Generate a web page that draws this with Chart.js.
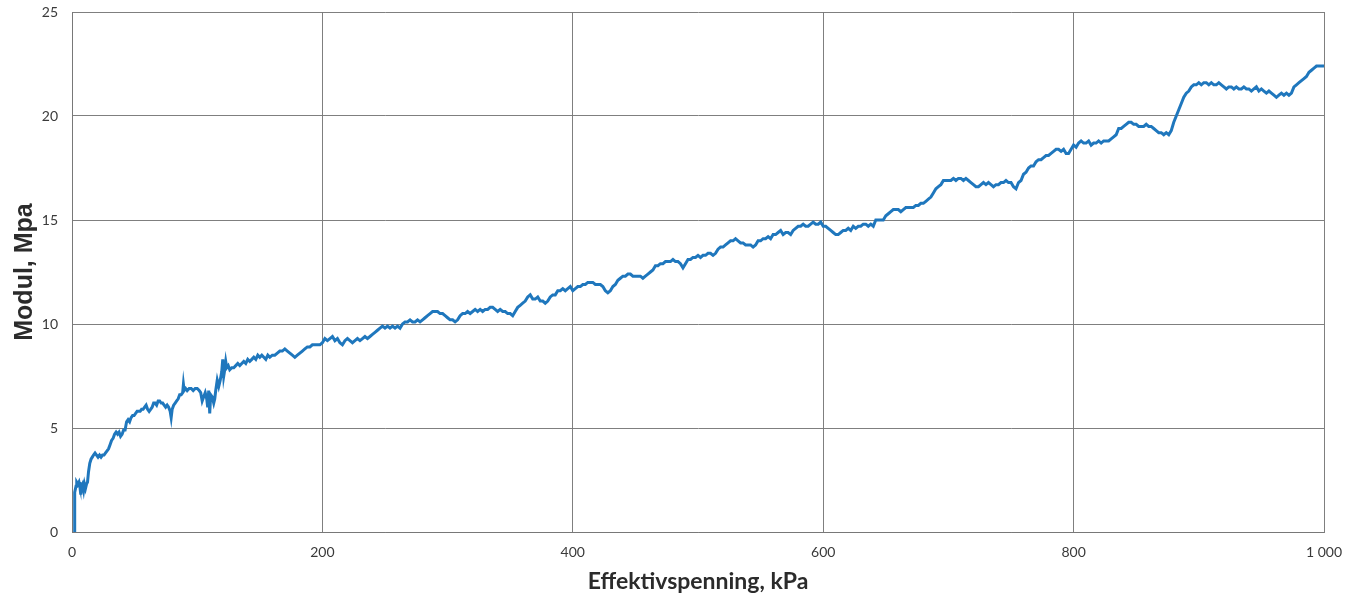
<!DOCTYPE html>
<html>
<head>
<meta charset="utf-8">
<script src="https://cdn.jsdelivr.net/npm/chart.js@4.4.1/dist/chart.umd.min.js"></script>
<style>
  html, body { margin: 0; padding: 0; background: #ffffff; }
  #wrap { width: 1359px; height: 600px; position: relative; }
</style>
</head>
<body>
<div id="wrap"><canvas id="c" width="1359" height="600"></canvas></div>
<script>
// Effective stress (kPa) and measured modulus (MPa)
const effektivspenning = [
  1.8, 2.0, 2.3, 3.2, 3.8, 4.8, 5.6, 6.3, 7.0, 7.6, 8.4, 9.3, 10.0, 10.8, 11.6, 12.4, 13.2, 14.2, 15.2, 16.2,
  17.2, 18.4, 19.6, 20.8, 22.0, 23.2, 24.4, 25.6, 26.8, 28.0, 29.2, 30.4, 31.6, 32.8, 34.0, 35.2, 36.4, 37.6, 38.8, 40.0,
  41.2, 42.4, 43.6, 44.8, 46.0, 47.2, 48.4, 49.6, 50.8, 52.0, 53.2, 54.4, 55.6, 56.8, 58.0, 59.2, 60.4, 61.6, 62.8, 64.0,
  65.2, 66.4, 67.6, 68.8, 70.0, 71.2, 72.4, 73.6, 74.8, 76.0, 77.2, 78.4, 79.2, 80.0, 81.2, 82.4, 83.6, 84.8, 86.0, 87.2,
  88.4, 89.0, 89.6, 90.8, 92.0, 93.6, 95.2, 96.8, 98.4, 100.0, 101.6, 102.8, 104.0, 105.2, 106.4, 107.6, 108.4, 109.2, 110.0, 110.8,
  112.0, 113.2, 114.0, 114.8, 116.0, 117.2, 118.4, 119.6, 120.4, 121.2, 122.0, 122.8, 123.6, 124.8, 126.0, 127.6, 129.2, 130.8, 132.4, 134.0,
  135.6, 137.2, 138.8, 140.4, 142.0, 143.6, 145.2, 146.8, 148.4, 150.0, 151.6, 153.2, 154.8, 156.4, 158.0, 160, 162, 164, 166, 168,
  170, 172, 174, 176, 178, 180, 182, 184, 186, 188, 190, 192, 194, 196, 198, 200, 202, 204, 206, 208,
  210, 212, 214, 216, 218, 220, 222, 224, 226, 228, 230, 232, 234, 236, 238, 240, 242, 244, 246, 248,
  250, 252, 254, 256, 258, 260, 262, 264, 266, 268, 270, 272, 274, 276, 278, 280, 282, 284, 286, 288,
  290, 292, 294, 296, 298, 300, 302, 304, 306, 308, 310, 312, 314, 316, 318, 320, 322, 324, 326, 328,
  330, 332, 334, 336, 338, 340, 342, 344, 346, 348, 350, 352, 354, 356, 358, 360, 362, 364, 366, 368,
  370, 372, 374, 376, 378, 380, 382, 384, 386, 388, 390, 392, 394, 396, 398, 400, 402, 404, 406, 408,
  410, 412, 414, 416, 418, 420, 422, 424, 426, 428, 430, 432, 434, 436, 438, 440, 442, 444, 446, 448,
  450, 452, 454, 456, 458, 460, 462, 464, 466, 468, 470, 472, 474, 476, 478, 480, 482, 484, 486, 488,
  490, 492, 494, 496, 498, 500, 502, 504, 506, 508, 510, 512, 514, 516, 518, 520, 522, 524, 526, 528,
  530, 532, 534, 536, 538, 540, 542, 544, 546, 548, 550, 552, 554, 556, 558, 560, 562, 564, 566, 568,
  570, 572, 574, 576, 578, 580, 582, 584, 586, 588, 590, 592, 594, 596, 598, 600, 602, 604, 606, 608,
  610, 612, 614, 616, 618, 620, 622, 624, 626, 628, 630, 632, 634, 636, 638, 640, 642, 644, 646, 648,
  650, 652, 654, 656, 658, 660, 662, 664, 666, 668, 670, 672, 674, 676, 678, 680, 682, 684, 686, 688,
  690, 692, 694, 696, 698, 700, 702, 704, 706, 708, 710, 712, 714, 716, 718, 720, 722, 724, 726, 728,
  730, 732, 734, 736, 738, 740, 742, 744, 746, 748, 750, 752, 754, 756, 758, 760, 762, 764, 766, 768,
  770, 772, 774, 776, 778, 780, 782, 784, 786, 788, 790, 792, 794, 796, 798, 800, 802, 804, 806, 808,
  810, 812, 814, 816, 818, 820, 822, 824, 826, 828, 830, 832, 834, 836, 838, 840, 842, 844, 846, 848,
  850, 852, 854, 856, 858, 860, 862, 864, 866, 868, 870, 872, 874, 876, 878, 880, 882, 884, 886, 888,
  890, 892, 894, 896, 898, 900, 902, 904, 906, 908, 910, 912, 914, 916, 918, 920, 922, 924, 926, 928,
  930, 932, 934, 936, 938, 940, 942, 944, 946, 948, 950, 952, 954, 956, 958, 960, 962, 964, 966, 968,
  970, 972, 974, 976, 978, 980, 982, 984, 986, 988, 990, 992, 994, 996, 998, 1000
];

const modul = [
  0.0, 1.0, 1.9, 2.2, 2.4, 2.3, 2.4, 2.2, 1.8, 2.2, 2.3, 2.0, 2.3, 2.1, 2.3, 2.4, 2.9, 3.3, 3.5, 3.6,
  3.7, 3.8, 3.7, 3.6, 3.7, 3.6, 3.7, 3.7, 3.8, 3.9, 4.0, 4.2, 4.4, 4.5, 4.7, 4.8, 4.7, 4.8, 4.6, 4.7,
  4.9, 4.9, 5.3, 5.4, 5.3, 5.5, 5.6, 5.6, 5.7, 5.8, 5.8, 5.8, 5.9, 5.9, 6.0, 6.1, 5.9, 5.8, 5.9, 6.0,
  6.2, 6.2, 6.1, 6.3, 6.3, 6.2, 6.2, 6.1, 6.0, 6.1, 6.0, 5.8, 5.5, 5.9, 6.1, 6.2, 6.3, 6.4, 6.6, 6.6,
  6.7, 7.1, 6.8, 6.9, 6.8, 6.9, 6.9, 6.8, 6.9, 6.9, 6.8, 6.7, 6.3, 6.5, 6.7, 6.4, 6.0, 6.8, 5.7, 6.6,
  6.5, 6.2, 6.4, 6.8, 7.3, 7.0, 7.3, 7.7, 8.3, 7.5, 7.8, 8.2, 7.9, 8.0, 7.8, 7.9, 7.9, 8.0, 8.1, 8.0,
  8.1, 8.2, 8.1, 8.3, 8.2, 8.3, 8.4, 8.3, 8.5, 8.4, 8.5, 8.4, 8.3, 8.5, 8.4, 8.5, 8.5, 8.6, 8.7, 8.7,
  8.8, 8.7, 8.6, 8.5, 8.4, 8.5, 8.6, 8.7, 8.8, 8.9, 8.9, 9.0, 9.0, 9.0, 9.0, 9.1, 9.3, 9.2, 9.3, 9.4,
  9.2, 9.3, 9.1, 9.0, 9.2, 9.3, 9.2, 9.1, 9.2, 9.3, 9.2, 9.3, 9.4, 9.3, 9.4, 9.5, 9.6, 9.7, 9.8, 9.9,
  9.8, 9.9, 9.8, 9.9, 9.8, 9.9, 9.8, 10.0, 10.1, 10.1, 10.2, 10.1, 10.1, 10.2, 10.1, 10.2, 10.3, 10.4, 10.5, 10.6,
  10.6, 10.6, 10.5, 10.5, 10.4, 10.3, 10.2, 10.2, 10.1, 10.2, 10.4, 10.5, 10.5, 10.6, 10.5, 10.6, 10.7, 10.6, 10.7, 10.6,
  10.7, 10.7, 10.8, 10.8, 10.7, 10.6, 10.7, 10.6, 10.6, 10.5, 10.5, 10.4, 10.6, 10.8, 10.9, 11.0, 11.1, 11.3, 11.4, 11.2,
  11.2, 11.3, 11.1, 11.1, 11.0, 11.1, 11.3, 11.4, 11.4, 11.6, 11.6, 11.7, 11.6, 11.7, 11.8, 11.6, 11.7, 11.8, 11.8, 11.9,
  11.9, 12.0, 12.0, 12.0, 11.9, 11.9, 11.9, 11.8, 11.6, 11.5, 11.6, 11.8, 11.9, 12.1, 12.2, 12.3, 12.3, 12.4, 12.4, 12.3,
  12.3, 12.3, 12.3, 12.2, 12.3, 12.4, 12.5, 12.6, 12.8, 12.8, 12.9, 12.9, 13.0, 13.0, 13.0, 13.1, 13.0, 13.0, 12.9, 12.7,
  12.9, 13.1, 13.1, 13.2, 13.2, 13.3, 13.2, 13.3, 13.3, 13.4, 13.4, 13.3, 13.4, 13.6, 13.7, 13.7, 13.8, 13.9, 14.0, 14.0,
  14.1, 14.0, 13.9, 13.9, 13.8, 13.8, 13.8, 13.7, 13.8, 14.0, 14.0, 14.1, 14.1, 14.2, 14.1, 14.3, 14.3, 14.4, 14.5, 14.3,
  14.4, 14.4, 14.3, 14.5, 14.6, 14.7, 14.7, 14.8, 14.7, 14.7, 14.8, 14.9, 14.8, 14.8, 14.9, 14.7, 14.7, 14.6, 14.5, 14.4,
  14.3, 14.3, 14.4, 14.5, 14.5, 14.6, 14.5, 14.7, 14.6, 14.7, 14.7, 14.8, 14.8, 14.7, 14.8, 14.7, 15.0, 15.0, 15.0, 15.0,
  15.2, 15.3, 15.4, 15.5, 15.5, 15.5, 15.4, 15.5, 15.6, 15.6, 15.6, 15.6, 15.7, 15.7, 15.8, 15.8, 15.9, 16.0, 16.1, 16.3,
  16.5, 16.6, 16.7, 16.9, 16.9, 16.9, 16.9, 17.0, 16.9, 17.0, 17.0, 16.9, 17.0, 16.9, 16.8, 16.7, 16.6, 16.6, 16.7, 16.8,
  16.7, 16.8, 16.7, 16.6, 16.7, 16.7, 16.8, 16.8, 16.9, 16.8, 16.8, 16.6, 16.5, 16.8, 16.9, 17.2, 17.3, 17.5, 17.6, 17.6,
  17.8, 17.9, 17.9, 18.0, 18.1, 18.1, 18.2, 18.3, 18.4, 18.4, 18.3, 18.4, 18.2, 18.2, 18.4, 18.6, 18.5, 18.7, 18.8, 18.7,
  18.7, 18.8, 18.6, 18.7, 18.7, 18.8, 18.7, 18.8, 18.8, 18.8, 18.9, 19.0, 19.1, 19.4, 19.4, 19.5, 19.6, 19.7, 19.7, 19.6,
  19.6, 19.5, 19.5, 19.5, 19.6, 19.5, 19.5, 19.4, 19.3, 19.2, 19.2, 19.1, 19.2, 19.1, 19.3, 19.7, 20.0, 20.3, 20.6, 20.9,
  21.1, 21.2, 21.4, 21.5, 21.5, 21.6, 21.5, 21.6, 21.6, 21.5, 21.6, 21.5, 21.5, 21.6, 21.5, 21.4, 21.3, 21.4, 21.4, 21.3,
  21.4, 21.3, 21.3, 21.4, 21.3, 21.3, 21.2, 21.3, 21.4, 21.2, 21.3, 21.2, 21.1, 21.2, 21.1, 21.0, 20.9, 21.0, 21.1, 21.0,
  21.1, 21.0, 21.1, 21.4, 21.5, 21.6, 21.7, 21.8, 21.9, 22.1, 22.2, 22.3, 22.4, 22.4, 22.4, 22.4
];

const xTicks = [0, 200, 400, 600, 800, 1000];
const yTicks = [0, 5, 10, 15, 20, 25];

const xTitle = 'Effektivspenning, kPa';
const yTitle = 'Modul, Mpa';

const points = effektivspenning.map((x, i) => ({ x: x, y: modul[i] }));

// thousands separated by a space, e.g. "1 000"
function spaced(v) {
  return String(v).replace(/\B(?=(\d{3})+(?!\d))/g, ' ');
}

const gridColor = 'rgba(120,120,120,0.95)';

new Chart(document.getElementById('c'), {
  type: 'line',
  data: {
    datasets: [{
      data: points,
      borderColor: '#1f77bd',
      borderWidth: 3,
      pointRadius: 0,
      tension: 0,
      fill: false
    }]
  },
  options: {
    responsive: false,
    animation: false,
    layout: { padding: { left: 0, right: 35, top: 12, bottom: 0 } },
    plugins: { legend: { display: false }, tooltip: { enabled: false } },
    scales: {
      x: {
        type: 'linear',
        min: 0,
        max: 1000,
        afterBuildTicks: (s) => { s.ticks = xTicks.map(v => ({ value: v })); },
        afterFit: (s) => { s.height = 68; },
        grid: { color: gridColor, lineWidth: 1, drawTicks: false },
        border: { color: gridColor, width: 1 },
        ticks: {
          padding: 12,
          color: '#3a3a3a',
          font: { family: 'Lato, "Open Sans", sans-serif', size: 14 },
          callback: (v) => spaced(v),
          maxRotation: 0
        },
        title: {
          display: true,
          text: xTitle,
          color: '#2b2b2b',
          font: { family: 'Lato, "Open Sans", sans-serif', size: 23, weight: 'bold' },
          padding: { top: 0, bottom: 5 }
        }
      },
      y: {
        type: 'linear',
        min: 0,
        max: 25,
        afterBuildTicks: (s) => { s.ticks = yTicks.map(v => ({ value: v })); },
        afterFit: (s) => { s.width = 72; s.paddingTop = 0; s.paddingBottom = 0; },
        grid: { color: gridColor, lineWidth: 1, drawTicks: false },
        border: { color: gridColor, width: 1 },
        ticks: {
          padding: 14,
          color: '#3a3a3a',
          font: { family: 'Lato, "Open Sans", sans-serif', size: 14 }
        },
        title: {
          display: true,
          text: yTitle,
          color: '#2b2b2b',
          font: { family: '"Liberation Sans", Arial, sans-serif', size: 25, weight: 'bold' },
          padding: { top: 10, bottom: 0 }
        }
      }
    }
  }
});
</script>
</body>
</html>
